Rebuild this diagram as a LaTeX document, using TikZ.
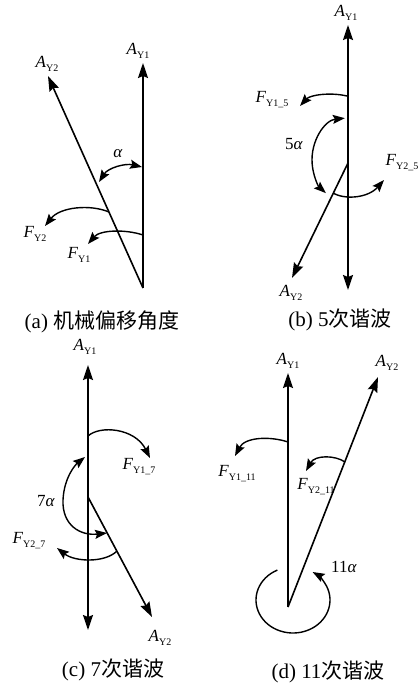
\documentclass[tikz,border=0pt]{standalone}
\usepackage{fontspec}
\setmainfont{Liberation Serif}
\newfontfamily\cjk{Noto Sans CJK SC}
\usetikzlibrary{arrows.meta}
\newcommand\vlab[2]{\textit{#1}\raisebox{-0.5ex}{\fontsize{10}{10}\selectfont #2}}
\begin{document}
\begin{tikzpicture}[x=1pt,y=1pt,
  vec/.style={line width=1.6pt,-{Stealth[length=15pt,width=10pt,inset=2pt]}},
  rot/.style={line width=1.4pt,-{Stealth[length=12pt,width=9pt,inset=2pt]}},
  rot2/.style={line width=1.4pt,{Stealth[length=12pt,width=9pt,inset=2pt]}-{Stealth[length=12pt,width=9pt,inset=2pt]}},
  lab/.style={font=\fontsize{17}{17}\selectfont, inner sep=0pt},
  captext/.style={font=\fontsize{21}{21}\selectfont, inner sep=0pt}]
\useasboundingbox (0,0) rectangle (420,-686);
\fill[white] (0,0) rectangle (420,-686);

% ---------- panel (a)
\coordinate (Oa) at (143,-288);
\coordinate (a1) at (143,-63);
\coordinate (a2) at (48,-76);
\draw[vec] (Oa) -- (a1);
\draw[vec] (Oa) -- (a2);
\node[lab] (la1) at (138,-51) {\vlab{A}{Y1}};
\node[lab] (la2) at (47,-64) {\vlab{A}{Y2}};
\coordinate (aa1) at (142,-167);
\coordinate (aa2) at (99,-182);
\draw[rot2] (aa2) .. controls (108,-168) and (125,-163) .. (aa1);
\node[lab] (alpa) at (118,-154) {\textit{α}};
\coordinate (fa2s) at (109,-212);
\coordinate (fa2e) at (45,-226);
\draw[rot] (fa2s) .. controls (90,-204) and (60,-207) .. (fa2e);
\node[lab] (lfa2) at (35,-234) {\vlab{F}{Y2}};
\coordinate (fa1s) at (143,-235);
\coordinate (fa1e) at (88,-244);
\draw[rot] (fa1s) .. controls (125,-229) and (100,-230) .. (fa1e);
\node[lab] (lfa1) at (79,-255) {\vlab{F}{Y1}};
\node[captext] (capa) at (102,-322) {(a) {\cjk 机械偏移角度}};

% ---------- panel (b)
\coordinate (Ob) at (348,-163);
\coordinate (b1) at (348,-25);
\coordinate (bd) at (348,-290);
\coordinate (b2) at (292,-278);
\draw[vec] (Ob) -- (b1);
\draw[vec] (Ob) -- (bd);
\draw[vec] (Ob) -- (b2);
\node[lab] (lb1) at (346,-13) {\vlab{A}{Y1}};
\node[lab] (lb2) at (291,-293) {\vlab{A}{Y2}};
\coordinate (fb1s) at (347,-96);
\coordinate (fb1e) at (300,-106);
\draw[rot] (fb1s) .. controls (330,-92) and (310,-95) .. (fb1e);
\node[lab] (lfb1) at (272,-100) {\vlab{F}{Y1\_5}};
\coordinate (c5) at (348,-160);
\draw[rot2] (c5) ++(95:36 and 42) arc[start angle=95,end angle=232,x radius=36,y radius=42];
\node[lab] (alpb) at (294,-144) {5\textit{α}};
\coordinate (fb2s) at (333,-193);
\coordinate (fb2e) at (384,-180);
\draw[rot] (fb2s) .. controls (345,-200) and (368,-198) .. (fb2e);
\node[lab] (lfb2) at (402,-163) {\vlab{F}{Y2\_5}};
\node[captext] (capb) at (340,-320) {(b) 5{\cjk 次谐波}};

% ---------- panel (c)
\coordinate (Oc) at (88,-497);
\coordinate (c1) at (88,-365);
\coordinate (cd) at (88,-630);
\coordinate (c2) at (152,-617);
\draw[vec] (Oc) -- (c1);
\draw[vec] (Oc) -- (cd);
\draw[vec] (Oc) -- (c2);
\node[lab] (lc1) at (85,-347) {\vlab{A}{Y1}};
\node[lab] (lc2) at (160,-638) {\vlab{A}{Y2}};
\coordinate (fc1s) at (88,-436);
\coordinate (fc1e) at (150,-458);
\draw[rot] (fc1s) .. controls (100,-425) and (135,-428) .. (fc1e);
\node[lab] (lfc1) at (139,-467) {\vlab{F}{Y1\_7}};
\coordinate (ac1) at (107,-533);
\coordinate (ac2) at (85,-457);
\draw[rot2] (ac1) .. controls (80,-536) and (62,-525) .. (63,-500) .. controls (64,-478) and (75,-465) .. (ac2);
\node[lab] (alpc) at (46,-501) {7\textit{α}};
\coordinate (fc2s) at (117,-551);
\coordinate (fc2e) at (57,-548);
\draw[rot] (fc2s) .. controls (105,-563) and (75,-562) .. (fc2e);
\node[lab] (lfc2) at (29,-541) {\vlab{F}{Y2\_7}};
\node[captext] (capc) at (113,-670) {(c) 7{\cjk 次谐波}};

% ---------- panel (d)
\coordinate (Od) at (288,-607);
\coordinate (d1) at (288,-373);
\coordinate (d2) at (378,-377);
\draw[vec] (Od) -- (d1);
\draw[vec] (Od) -- (d2);
\node[lab] (ld1) at (288,-361) {\vlab{A}{Y1}};
\node[lab] (ld2) at (387,-363) {\vlab{A}{Y2}};
\coordinate (fd1s) at (288,-442);
\coordinate (fd1e) at (235,-456);
\draw[rot] (fd1s) .. controls (270,-436) and (245,-437) .. (fd1e);
\node[lab] (lfd1) at (237,-474) {\vlab{F}{Y1\_11}};
\coordinate (fd2s) at (345,-462);
\coordinate (fd2e) at (306,-471);
\draw[rot] (fd2s) .. controls (335,-455) and (315,-455) .. (fd2e);
\node[lab] (lfd2) at (316,-487) {\vlab{F}{Y2\_11}};
\coordinate (c11) at (293,-600);
\draw[rot] (c11) ++(115:37 and 33) arc[start angle=115,end angle=418,x radius=37,y radius=33];
\node[lab] (alpd) at (344,-567) {11\textit{α}};
\node[captext] (capd) at (328,-672) {(d) 11{\cjk 次谐波}};
\end{tikzpicture}
\end{document}
